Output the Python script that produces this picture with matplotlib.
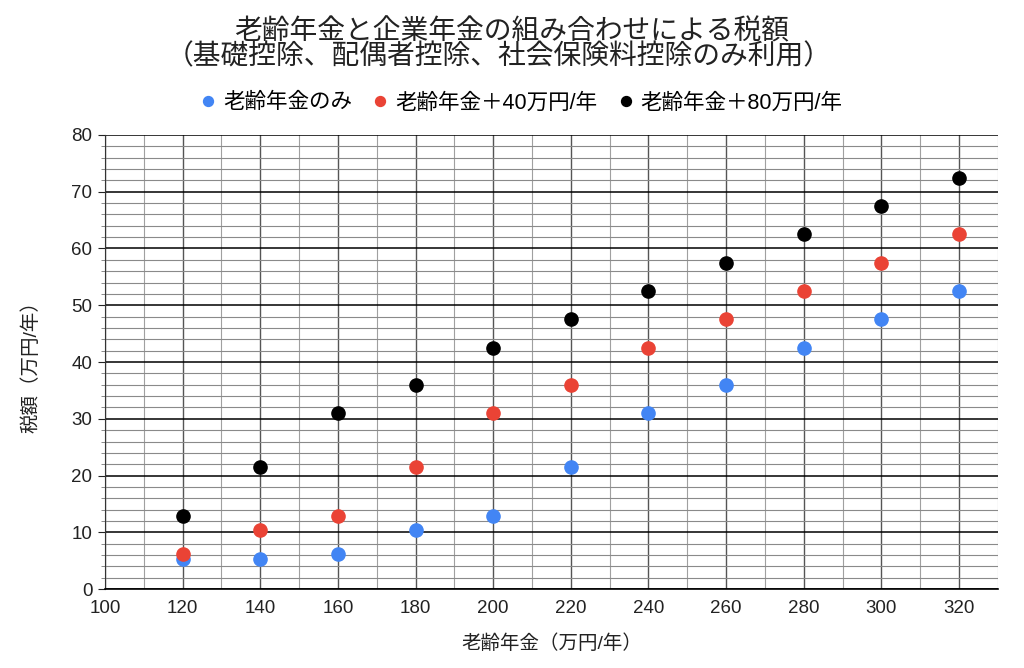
import matplotlib.pyplot as plt
from matplotlib.ticker import MultipleLocator

plt.rcParams['font.family'] = ['Liberation Sans', 'Noto Sans CJK JP', 'DejaVu Sans']

# data (万円/年)
pension = [120, 140, 160, 180, 200, 220, 240, 260, 280, 300, 320]
tax_pension_only = [5.3, 5.3, 6.2, 10.5, 12.8, 21.5, 31, 36, 42.5, 47.5, 52.5]
tax_plus_40 = [6.2, 10.5, 12.8, 21.5, 31, 36, 42.5, 47.5, 52.5, 57.5, 62.5]
tax_plus_80 = [12.8, 21.5, 31, 36, 42.5, 47.5, 52.5, 57.5, 62.5, 67.5, 72.5]

series_names = ['老齢年金のみ', '老齢年金＋40万円/年', '老齢年金＋80万円/年']
colors = ['#4285F4', '#EA4335', '#000000']

fig = plt.figure(figsize=(10.24, 6.68), dpi=100)
ax = fig.add_axes([0.1025, 0.118, 0.872, 0.680])

for vals, name, c in zip([tax_pension_only, tax_plus_40, tax_plus_80], series_names, colors):
    ax.plot(pension, vals, 'o', color=c, markersize=9.5, label=name, zorder=3)

ax.set_xlim(100, 330)
ax.set_ylim(0, 80)
ax.xaxis.set_major_locator(MultipleLocator(20))
ax.xaxis.set_minor_locator(MultipleLocator(10))
ax.yaxis.set_major_locator(MultipleLocator(10))
ax.yaxis.set_minor_locator(MultipleLocator(2))

# grid
ax.grid(which='major', axis='y', color='black', linewidth=1.1)
ax.grid(which='minor', axis='y', color='#8a8a8a', linewidth=0.8)
ax.grid(which='major', axis='x', color='#555555', linewidth=1.0)
ax.grid(which='minor', axis='x', color='#a0a0a0', linewidth=0.8)
ax.set_axisbelow(True)

for s in ['top', 'right']:
    ax.spines[s].set_visible(False)
ax.spines['left'].set_color('#333333')
ax.spines['bottom'].set_color('black')
ax.spines['bottom'].set_linewidth(1.2)

ax.tick_params(axis='x', which='both', length=0, pad=8, labelsize=13.5, colors='#222222')
ax.tick_params(axis='y', which='major', length=5, pad=4, labelsize=13.5, colors='#222222')
ax.tick_params(axis='y', which='minor', length=3, color='#777777')

ax.set_xlabel('老齢年金（万円/年）', fontsize=14, labelpad=12, color='#222222')
ax.set_ylabel('税額（万円/年）', fontsize=14, labelpad=22, color='#222222')

fig.text(0.50, 0.952, '老齢年金と企業年金の組み合わせによる税額',
         ha='center', va='center', fontsize=20, color='#222222')
fig.text(0.487, 0.914, '（基礎控除、配偶者控除、社会保険料控除のみ利用）',
         ha='center', va='center', fontsize=20, color='#222222')

fig.legend(loc='center', bbox_to_anchor=(0.508, 0.846), ncol=3, frameon=False,
           fontsize=15.5, handlelength=1.0, handletextpad=0.2, columnspacing=0.8,
           markerscale=0.75)

fig.savefig('out.png', dpi=100, facecolor='white')
